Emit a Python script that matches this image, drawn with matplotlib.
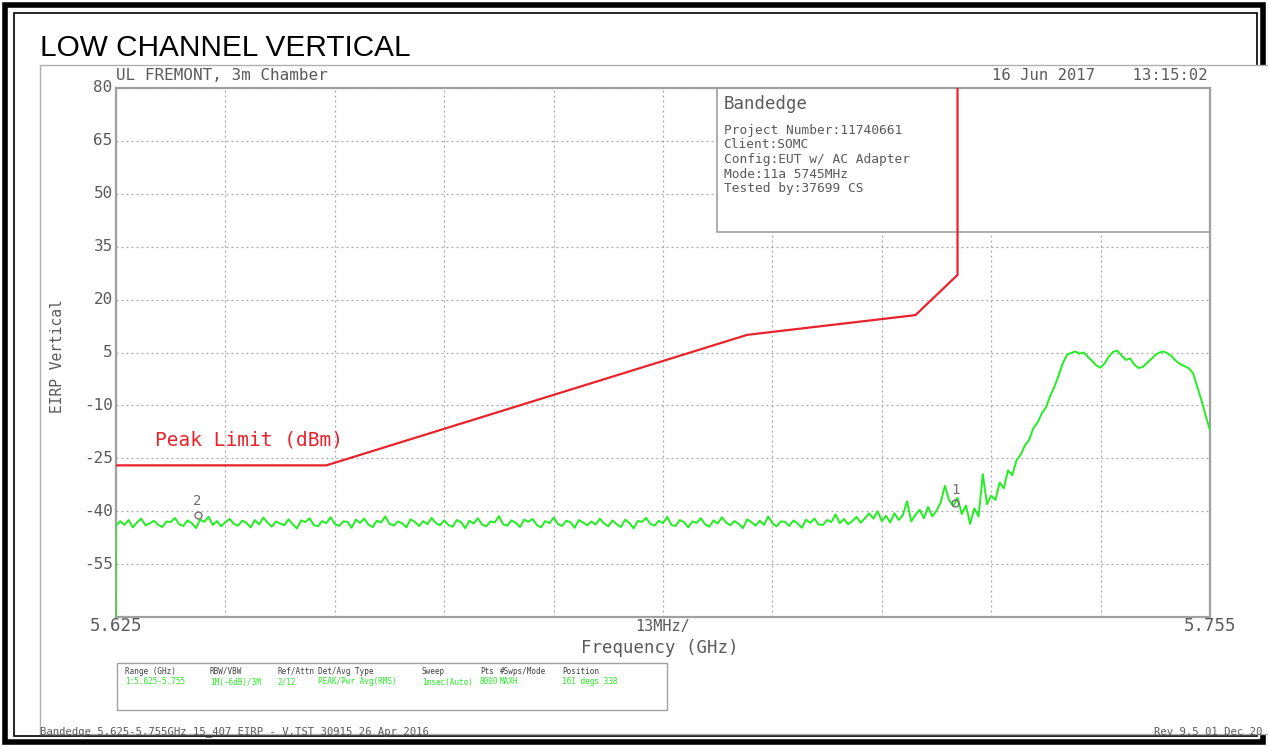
import matplotlib.pyplot as plt
from matplotlib.patches import Rectangle
import numpy as np

W, H = 1268, 747

# 坐标轴范围
f_start, f_stop = 5.625, 5.755
y_min, y_max = -70, 80
y_ticks = [80, 65, 50, 35, 20, 5, -10, -25, -40, -55]
x_grid = np.linspace(f_start, f_stop, 11)

# 峰值限值线 (dBm)
limit_freq = [5.625, 5.650, 5.700, 5.720, 5.725, 5.725]
limit_level = [-27, -27, 10, 15.6, 27, 80]

# 测量轨迹 (0.5 MHz 步进, 从图上读取)
trace_level = [
    -44.1, -42.8, -43.9, -42.5, -44.6, -43.2, -42.1, -44.0, -43.5, -42.7,
    -43.8, -44.5, -42.9, -43.1, -41.9, -43.7, -44.2, -42.6, -43.4, -44.8,
    -42.4, -43.0, -41.6, -43.9, -42.8, -44.3, -43.1, -42.2, -43.6, -44.1,
    -42.7, -43.3, -44.6, -42.5, -43.8, -41.8, -43.2, -44.4, -42.9, -43.5,
    -44.0, -42.3, -43.7, -44.9, -42.6, -43.1, -42.0, -43.9, -44.3, -42.8,
    -43.4, -41.7, -43.6, -44.2, -42.9, -43.0, -44.7, -42.4, -43.3, -42.1,
    -43.8, -44.5, -42.7, -43.2, -41.5, -43.6, -44.1, -42.9, -43.4, -44.6,
    -42.3, -43.0, -44.2, -42.8, -43.7, -41.9, -43.3, -44.0, -42.6, -43.9,
    -44.4, -42.5, -43.1, -44.8, -42.7, -43.5, -42.0, -43.8, -44.3, -42.9,
    -43.2, -41.4, -43.7, -44.1, -42.6, -43.3, -44.5, -42.4, -43.0, -42.2,
    -43.9, -44.6, -42.8, -43.4, -41.8, -43.6, -44.2, -42.7, -43.1, -44.7,
    -42.5, -43.2, -44.0, -42.9, -43.8, -42.1, -43.5, -44.3, -42.6, -43.7,
    -44.5, -42.4, -43.3, -44.9, -42.8, -43.0, -41.9, -43.6, -44.1, -42.7,
    -43.4, -41.6, -43.9, -44.2, -42.5, -43.1, -44.6, -42.9, -43.3, -42.0,
    -43.7, -44.4, -42.6, -43.5, -41.7, -43.2, -44.0, -42.8, -43.6, -44.8,
    -42.3, -43.1, -44.1, -42.7, -43.9, -41.5, -43.4, -44.3, -42.9, -43.0,
    -44.2, -42.6, -43.5, -44.7, -42.4, -43.3, -42.1, -43.8, -43.9, -42.5,
    -43.1, -40.9, -43.4, -42.2, -43.7, -42.8, -41.6, -43.3, -42.0, -40.6,
    -42.1, -40.0, -42.8, -41.3, -43.2, -40.6, -42.5, -41.1, -37.2, -42.9,
    -41.0, -39.6, -42.0, -38.8, -41.5, -39.9, -37.5, -32.8, -36.9, -38.5,
    -36.2, -40.8, -38.4, -43.6, -39.2, -41.5, -29.5, -38.0, -35.6, -36.8,
    -31.9, -33.5, -28.4, -29.8, -25.6, -24.0, -21.4, -19.8, -16.5, -14.9,
    -12.3, -10.6, -7.4, -4.8, -1.6, 1.9, 4.3, 4.9, 5.3, 4.7,
    5.0, 3.7, 2.6, 1.3, 0.7, 2.0, 3.9, 5.2, 5.5, 4.1,
    2.9, 3.3, 1.6, 0.6, 0.9, 2.0, 3.1, 4.3, 5.0, 5.3,
    4.7, 3.8, 2.5, 1.7, 1.1, 0.5, -0.9, -4.8, -8.7, -13.0,
    -17.0,
]
trace_freq = np.linspace(f_start, f_stop, len(trace_level))

# 标记点
marker_freq = [5.7247, 5.6347]
marker_level = [-37.7, -41.0]
marker_label = ["1", "2"]

info_lines = [
    "Project Number:11740661",
    "Client:SOMC",
    "Config:EUT w/ AC Adapter",
    "Mode:11a 5745MHz",
    "Tested by:37699 CS",
]

table_head = ["Range (GHz)", "RBW/VBW", "Ref/Attn", "Det/Avg Type", "Sweep",
              "Pts", "#Swps/Mode", "Position"]
table_vals = ["1:5.625-5.755", "1M(-6dB)/3M", "2/12", "PEAK/Pwr Avg(RMS)",
              "1msec(Auto)", "8000", "MAXH", "161 degs 338"]
table_x = [125, 210, 277, 318, 422, 480, 500, 562]

GREY = "#5a5a5a"
GREEN = "#22ee22"
RED = "#e8232b"
MONO = "DejaVu Sans Mono"


def fx(x):
    return x / W


def fy(y):
    return 1 - y / H


fig = plt.figure(figsize=(W / 100, H / 100), dpi=100)

# 外框
fig.add_artist(Rectangle((fx(5), fy(742)), fx(1258), 737 / H, transform=fig.transFigure,
                         fill=False, ec="black", lw=4, zorder=-3))
fig.add_artist(Rectangle((fx(13.5), fy(736)), fx(1243), 723 / H, transform=fig.transFigure,
                         fill=False, ec="black", lw=1.2, zorder=-3))
# 分析仪截图区域
fig.add_artist(Rectangle((fx(40), fy(734)), fx(1260), 669 / H, transform=fig.transFigure,
                         fc="white", ec="#b0b0b0", lw=1, zorder=-2))

fig.text(fx(40), fy(48), "LOW CHANNEL VERTICAL", fontsize=21.4,
         family="Liberation Sans", va="center", ha="left")

ax = fig.add_axes([fx(116), fy(617), fx(1210) - fx(116), fy(88) - fy(617)])
ax.set_facecolor("none")
ax.set_xlim(f_start, f_stop)
ax.set_ylim(y_min, y_max)
ax.set_xticks(x_grid)
ax.set_yticks(y_ticks)
ax.set_xticklabels([])
ax.set_yticklabels([])
ax.tick_params(length=0)
ax.grid(True, color="#a5a5a5", ls=(0, (1.5, 2.5)), lw=0.9)
for s in ax.spines.values():
    s.set_color("#a0a0a0")
    s.set_linewidth(1.6)

# 信息框
ax.add_patch(Rectangle((5.6964, 39.2), f_stop - 5.6964, y_max - 39.2, fc="white",
                       ec="#a0a0a0", lw=1.2, zorder=2))
ax.text(5.6972, 75.5, "Bandedge", fontsize=12.5, family=MONO, color=GREY,
        va="center", zorder=3)
for i, line in enumerate(info_lines):
    ax.text(5.6972, 68.0 - i * 4.15, line, fontsize=9.3, family=MONO, color=GREY,
            va="center", zorder=3)

ax.plot(limit_freq, limit_level, color=RED, lw=1.6, zorder=4)
ax.plot(trace_freq, trace_level, color=GREEN, lw=1.4, zorder=5)
ax.vlines(trace_freq[0], y_min, trace_level[0], color=GREEN, lw=1.2, zorder=5)

for f, lv, lb in zip(marker_freq, marker_level, marker_label):
    ax.plot(f, lv, "o", ms=5, mfc="none", mec="#707070", mew=1, zorder=6)
    ax.text(f, lv + 1.8, lb, fontsize=10, family=MONO, color="#707070",
            ha="center", va="bottom", zorder=6)

ax.text(5.6296, -22.5, "Peak Limit (dBm)", fontsize=14, family=MONO,
        color=RED, va="bottom")

# 刻度标签
for v in y_ticks:
    ax.text(-0.003, v, str(v), transform=ax.get_yaxis_transform(), fontsize=11.5,
            family=MONO, color=GREY, ha="right", va="center")
fig.text(fx(116), fy(626), "5.625", fontsize=12.5, family=MONO, color=GREY,
         ha="center", va="center")
fig.text(fx(1210), fy(626), "5.755", fontsize=12.5, family=MONO, color=GREY,
         ha="center", va="center")
fig.text(fx(663), fy(626), "13MHz/", fontsize=11, family=MONO, color=GREY,
         ha="center", va="center")
fig.text(fx(660), fy(648), "Frequency (GHz)", fontsize=12.5, family=MONO,
         color=GREY, ha="center", va="center")
fig.text(fx(58), fy(356), "EIRP Vertical", fontsize=10.5, family=MONO, color=GREY,
         ha="center", va="center", rotation=90)
fig.text(fx(116), fy(76), "UL FREMONT, 3m Chamber", fontsize=11.5, family=MONO,
         color=GREY, ha="left", va="center")
fig.text(fx(1208), fy(75), "16 Jun 2017    13:15:02", fontsize=11.2, family=MONO,
         color=GREY, ha="right", va="center")

# 底部参数表
fig.add_artist(Rectangle((fx(117), fy(710)), fx(550), 47 / H, transform=fig.transFigure,
                         fill=False, ec="#a0a0a0", lw=1))
for x, h, v in zip(table_x, table_head, table_vals):
    fig.text(fx(x), fy(671), h, fontsize=5.5, family=MONO, color="#404040",
             ha="left", va="center")
    fig.text(fx(x), fy(682), v, fontsize=5.5, family=MONO, color=GREEN,
             ha="left", va="center")

fig.text(fx(40), fy(732), "Bandedge 5.625-5.755GHz 15_407 EIRP - V.TST 30915 26 Apr 2016",
         fontsize=7.7, family=MONO, color=GREY, ha="left", va="center")
fig.text(fx(1262), fy(732), "Rev 9.5 01 Dec 20", fontsize=7.7, family=MONO,
         color=GREY, ha="right", va="center")

fig.savefig("out.png", dpi=100)
